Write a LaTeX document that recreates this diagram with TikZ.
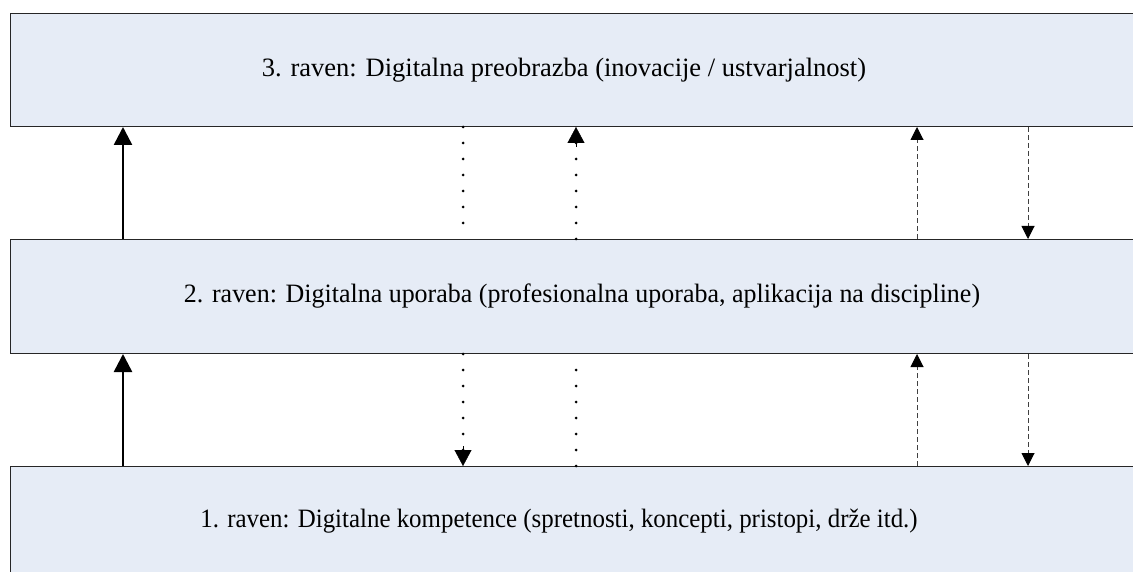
\documentclass[tikz,border=0pt]{standalone}
\usepackage{fontspec}
\setmainfont{Liberation Serif}
\usetikzlibrary{arrows.meta}

\definecolor{levelfill}{HTML}{E6ECF6}

\tikzset{
    level/.style={draw=black!85, line width=1pt, fill=levelfill, rectangle,
        inner sep=0pt, anchor=north west},
    leveltext/.style={font=\fontsize{26.5}{30}\selectfont, inner sep=0pt},
    solidup/.style={line width=2.5pt, -{Triangle[length=18pt,width=18pt]}},
    dotline/.style={line width=3pt, dash pattern=on 0pt off 16pt, line cap=round},
    dottip/.style={-{Triangle[length=16pt,width=17pt]}},
    dashline/.style={line width=1pt, black!75, dash pattern=on 5pt off 3pt},
    dashtip/.style={-{Triangle[length=13pt,width=13pt,color=black]}}
}

\begin{document}
\begin{tikzpicture}[x=1pt, y=-1pt]
    \useasboundingbox (0,0) rectangle (1133,572);

    % Levels
    \node[level, minimum width=1150pt, minimum height=113pt] (top) at (10,13) {};
    \node[level, minimum width=1150pt, minimum height=114pt] (mid) at (10,239) {};
    \node[level, minimum width=1150pt, minimum height=130pt] (bot) at (10,466) {};

    % Labels
    \node[leveltext] (ttop) at (564,70) {3. raven: Digitalna preobrazba (inovacije / ustvarjalnost)};
    \node[leveltext, transform shape, xscale=0.98] (tmid) at (582,296) {2. raven: Digitalna uporaba (profesionalna uporaba, aplikacija na discipline)};
    \node[leveltext, transform shape, xscale=0.94] (tbot) at (559,521) {1. raven: Digitalne kompetence (spretnosti, koncepti, pristopi, drže itd.)};

    % Columns of the connectors
    \coordinate (ca) at (123,0);
    \coordinate (cb) at (463,0);
    \coordinate (cc) at (576,0);
    \coordinate (cd) at (917,0);
    \coordinate (ce) at (1028,0);

    % Between level 2 and level 3
    \draw[solidup] (mid.north -| ca) -- (top.south -| ca);
    \draw[dotline] (top.south -| cb) -- (mid.north -| cb);
    \draw[dotline] (mid.north -| cc) -- (top.south -| cc);
    \draw[dottip] ([yshift=-20pt]top.south -| cc) -- (top.south -| cc);
    \draw[dashline, dashtip] (mid.north -| cd) -- (top.south -| cd);
    \draw[dashline, dashtip] (top.south -| ce) -- (mid.north -| ce);

    % Between level 1 and level 2
    \draw[solidup] (bot.north -| ca) -- (mid.south -| ca);
    \draw[dotline] (mid.south -| cb) -- (bot.north -| cb);
    \draw[dottip] ([yshift=20pt]bot.north -| cb) -- (bot.north -| cb);
    \draw[dotline] (bot.north -| cc) -- (mid.south -| cc);
    \draw[dashline, dashtip] (bot.north -| cd) -- (mid.south -| cd);
    \draw[dashline, dashtip] (mid.south -| ce) -- (bot.north -| ce);
\end{tikzpicture}
\end{document}
